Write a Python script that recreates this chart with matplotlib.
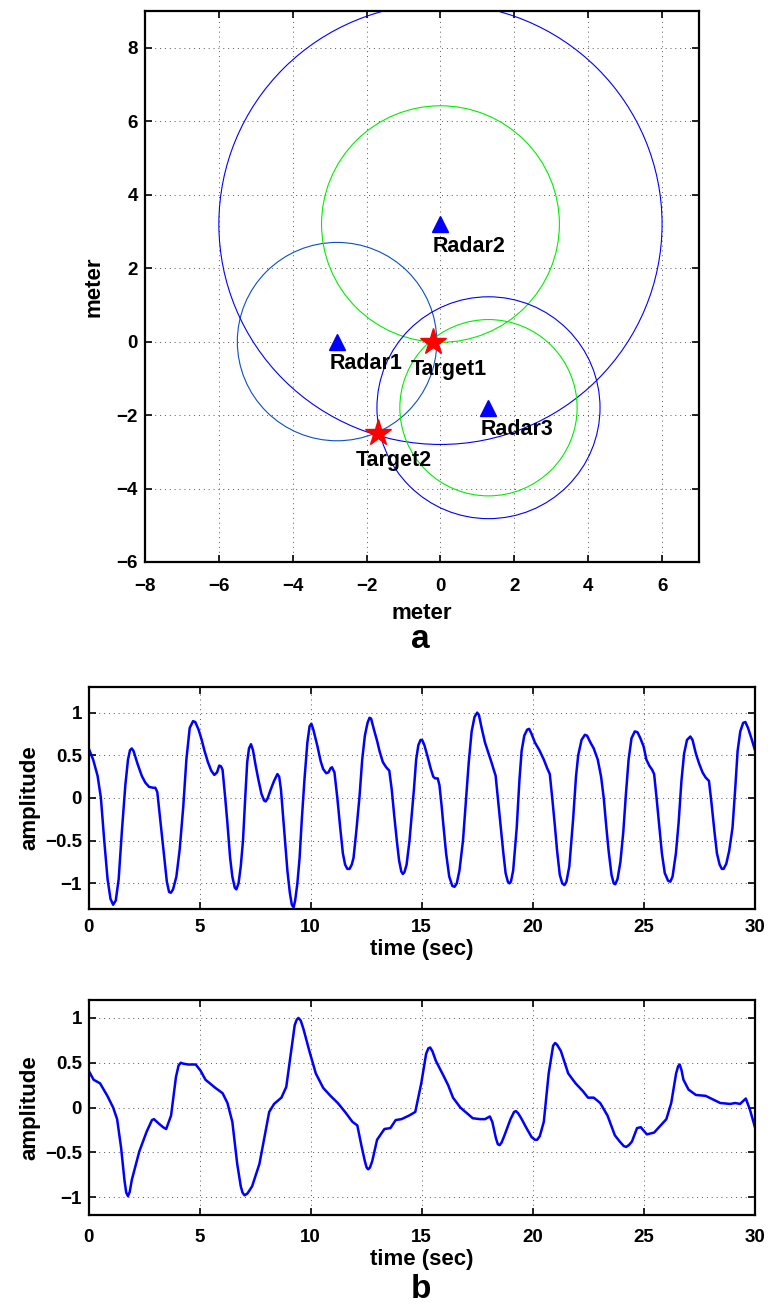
import matplotlib
matplotlib.use("Agg")
import matplotlib.pyplot as plt
from matplotlib.patches import Circle

plt.rcParams['font.family'] = ['Liberation Sans', 'DejaVu Sans']
plt.rcParams['font.weight'] = 'bold'

# ---------------- data: panel a ----------------
radar_names = ["Radar1", "Radar2", "Radar3"]
radar_x = [-2.8, 0.0, 1.3]
radar_y = [0.0, 3.2, -1.8]
target_names = ["Target1", "Target2"]
target_x = [-0.2, -1.7]
target_y = [0.0, -2.5]
# range circles: index of centre radar, radius, colour
circle_radar = [0, 1, 1, 2, 2]
circle_radius = [2.7, 6.0, 3.22, 3.02, 2.4]
circle_colors = ["#0a4fc8", "#0000ff", "#00ee00", "#0000ff", "#00ee00"]

# ---------------- data: panel b (upper signal) ----------------
t1 = [0.0, 0.2, 0.4, 0.55, 0.7, 0.85, 0.98, 1.1, 1.22, 1.35, 1.5, 1.65, 1.77, 1.86, 1.94, 2.02, 2.2, 2.39, 2.55,
      2.72, 2.9, 3.0, 3.09, 3.2, 3.38, 3.52, 3.62, 3.7, 3.8, 3.95, 4.1, 4.26, 4.4, 4.55, 4.7, 4.8, 4.95, 5.08, 5.22,
      5.37, 5.52, 5.66, 5.78, 5.88, 5.96, 6.03, 6.15, 6.25, 6.37, 6.47, 6.58, 6.65, 6.75, 6.85, 6.95, 7.05, 7.14,
      7.22, 7.31, 7.4, 7.52, 7.64, 7.78, 7.9, 7.97, 8.05, 8.2, 8.35, 8.5, 8.58, 8.66, 8.75, 8.84, 8.95, 9.06, 9.15,
      9.23, 9.3, 9.4, 9.5, 9.6, 9.72, 9.85, 9.95, 10.03, 10.12, 10.3, 10.45, 10.56, 10.7, 10.8, 10.9, 10.96, 11.07,
      11.2, 11.33, 11.45, 11.55, 11.65, 11.75, 11.85, 11.93, 12.05, 12.2, 12.32, 12.44, 12.56, 12.65, 12.72, 12.85,
      12.99, 13.1, 13.25, 13.4, 13.54, 13.65, 13.76, 13.88, 13.98, 14.08, 14.15, 14.22, 14.32, 14.45, 14.55, 14.65,
      14.75, 14.85, 14.95, 15.02, 15.12, 15.25, 15.4, 15.52, 15.6, 15.72, 15.8, 15.9, 15.97, 16.1, 16.24, 16.38,
      16.48, 16.58, 16.7, 16.86, 17.0, 17.12, 17.25, 17.38, 17.5, 17.58, 17.7, 17.85, 18.0, 18.14, 18.28, 18.33,
      18.45, 18.55, 18.68, 18.78, 18.88, 18.95, 19.02, 19.12, 19.28, 19.4, 19.5, 19.62, 19.75, 19.84, 19.95, 20.1,
      20.3, 20.5, 20.65, 20.77, 20.88, 20.99, 21.1, 21.22, 21.33, 21.43, 21.52, 21.65, 21.82, 21.95, 22.05, 22.2,
      22.35, 22.45, 22.6, 22.75, 22.93, 23.08, 23.2, 23.32, 23.42, 23.55, 23.65, 23.72, 23.82, 23.95, 24.08, 24.2,
      24.32, 24.45, 24.6, 24.72, 24.85, 25.0, 25.12, 25.25, 25.38, 25.47, 25.58, 25.69, 25.82, 25.95, 26.1, 26.2,
      26.3, 26.45, 26.57, 26.7, 26.82, 26.95, 27.1, 27.2, 27.35, 27.5, 27.65, 27.79, 27.94, 28.05, 28.19, 28.3,
      28.42, 28.52, 28.6, 28.72, 28.85, 29.0, 29.12, 29.23, 29.35, 29.48, 29.58, 29.7, 29.85, 30.0]
a1 = [0.58, 0.45, 0.26, 0.0, -0.5, -0.95, -1.18, -1.25, -1.2, -0.95, -0.37, 0.15, 0.45, 0.56, 0.58, 0.55, 0.4, 0.26,
      0.18, 0.13, 0.12, 0.12, 0.07, -0.2, -0.64, -0.98, -1.1, -1.11, -1.07, -0.92, -0.6, -0.1, 0.45, 0.82, 0.9, 0.89,
      0.8, 0.69, 0.55, 0.42, 0.32, 0.27, 0.3, 0.38, 0.37, 0.33, 0.0, -0.3, -0.7, -0.92, -1.05, -1.07, -1.0, -0.8,
      -0.5, 0.0, 0.42, 0.58, 0.63, 0.56, 0.38, 0.22, 0.05, -0.03, -0.04, -0.01, 0.1, 0.2, 0.28, 0.25, 0.1, -0.2,
      -0.49, -0.85, -1.11, -1.25, -1.28, -1.2, -1.0, -0.7, -0.25, 0.22, 0.65, 0.84, 0.87, 0.8, 0.61, 0.43, 0.34,
      0.29, 0.3, 0.35, 0.36, 0.3, 0.0, -0.35, -0.65, -0.78, -0.83, -0.83, -0.78, -0.7, -0.4, 0.02, 0.45, 0.73, 0.88,
      0.94, 0.93, 0.8, 0.67, 0.55, 0.42, 0.36, 0.32, 0.1, -0.2, -0.5, -0.73, -0.86, -0.89, -0.87, -0.78, -0.5, -0.2,
      0.1, 0.45, 0.62, 0.68, 0.68, 0.62, 0.5, 0.35, 0.25, 0.23, 0.23, 0.15, -0.1, -0.3, -0.65, -0.92, -1.03, -1.04,
      -1.0, -0.85, -0.5, 0.0, 0.42, 0.78, 0.95, 1.0, 0.97, 0.82, 0.65, 0.53, 0.42, 0.3, 0.26, -0.05, -0.3, -0.65,
      -0.88, -0.98, -1.0, -0.98, -0.85, -0.35, 0.2, 0.55, 0.73, 0.8, 0.81, 0.75, 0.65, 0.56, 0.45, 0.35, 0.28, 0.0,
      -0.3, -0.62, -0.9, -1.0, -1.02, -0.98, -0.8, -0.25, 0.25, 0.5, 0.68, 0.74, 0.73, 0.65, 0.58, 0.45, 0.25, 0.0,
      -0.35, -0.62, -0.9, -1.0, -1.01, -0.95, -0.75, -0.4, 0.05, 0.45, 0.7, 0.78, 0.77, 0.7, 0.6, 0.45, 0.38, 0.33,
      0.28, 0.0, -0.3, -0.65, -0.88, -0.97, -0.98, -0.92, -0.65, -0.3, 0.2, 0.52, 0.68, 0.72, 0.68, 0.52, 0.4, 0.3,
      0.24, 0.2, -0.05, -0.4, -0.65, -0.78, -0.83, -0.83, -0.77, -0.62, -0.35, 0.1, 0.55, 0.78, 0.88, 0.89, 0.82,
      0.7, 0.57]

# ---------------- data: panel b (lower signal) ----------------
t2 = [0.0, 0.22, 0.51, 0.84, 1.1, 1.28, 1.46, 1.61, 1.69, 1.77, 1.85, 1.94, 2.28, 2.61, 2.85, 2.94, 3.16, 3.35,
      3.49, 3.71, 3.93, 4.05, 4.15, 4.25, 4.48, 4.82, 5.04, 5.26, 5.7, 6.03, 6.25, 6.47, 6.69, 6.85, 6.93, 7.02,
      7.15, 7.36, 7.69, 7.91, 8.13, 8.35, 8.68, 8.9, 9.12, 9.28, 9.37, 9.45, 9.55, 9.67, 9.94, 10.23, 10.56, 10.89,
      11.22, 11.55, 11.88, 12.1, 12.28, 12.44, 12.52, 12.59, 12.67, 12.77, 12.99, 13.32, 13.59, 13.83, 14.09, 14.43,
      14.71, 14.98, 15.2, 15.3, 15.38, 15.48, 15.64, 15.97, 16.19, 16.41, 16.74, 17.07, 17.3, 17.63, 17.85, 18.07,
      18.18, 18.34, 18.43, 18.51, 18.6, 18.73, 19.0, 19.16, 19.24, 19.33, 19.46, 19.72, 19.95, 20.1, 20.2, 20.32,
      20.5, 20.72, 20.92, 21.01, 21.1, 21.27, 21.6, 21.93, 22.27, 22.49, 22.75, 23.04, 23.37, 23.7, 23.92, 24.1,
      24.21, 24.33, 24.47, 24.7, 24.87, 25.14, 25.47, 25.69, 26.02, 26.24, 26.46, 26.55, 26.62, 26.7, 26.79, 27.02,
      27.35, 27.79, 28.12, 28.45, 28.9, 29.12, 29.34, 29.6, 29.78, 30.0]
a2 = [0.41, 0.31, 0.27, 0.13, 0.0, -0.13, -0.45, -0.81, -0.95, -0.99, -0.94, -0.81, -0.49, -0.27, -0.14, -0.13,
      -0.18, -0.22, -0.24, -0.09, 0.34, 0.47, 0.5, 0.49, 0.48, 0.48, 0.41, 0.31, 0.22, 0.16, 0.05, -0.16, -0.63,
      -0.88, -0.95, -0.98, -0.96, -0.88, -0.63, -0.34, -0.05, 0.04, 0.11, 0.23, 0.63, 0.92, 0.98, 1.0, 0.97, 0.88,
      0.63, 0.38, 0.22, 0.13, 0.05, -0.05, -0.16, -0.2, -0.42, -0.6, -0.67, -0.69, -0.67, -0.6, -0.36, -0.24,
      -0.23, -0.14, -0.13, -0.09, -0.05, 0.27, 0.6, 0.66, 0.67, 0.63, 0.52, 0.36, 0.25, 0.11, 0.0, -0.07, -0.12,
      -0.13, -0.13, -0.1, -0.16, -0.34, -0.41, -0.42, -0.39, -0.31, -0.13, -0.05, -0.04, -0.06, -0.11, -0.23,
      -0.33, -0.36, -0.36, -0.32, -0.16, 0.38, 0.69, 0.72, 0.7, 0.63, 0.38, 0.27, 0.18, 0.11, 0.11, 0.05, -0.09,
      -0.31, -0.38, -0.43, -0.44, -0.42, -0.38, -0.23, -0.22, -0.3, -0.28, -0.22, -0.13, 0.05, 0.38, 0.46, 0.48,
      0.42, 0.31, 0.2, 0.14, 0.13, 0.09, 0.05, 0.04, 0.05, 0.04, 0.1, -0.02, -0.21]

amp_ticks = [-1, -0.5, 0, 0.5, 1]
amp_ticklabels = ["\u22121", "\u22120.5", "0", "0.5", "1"]
time_ticks = [0, 5, 10, 15, 20, 25, 30]

W, H = 768, 1306
fig = plt.figure(figsize=(W / 100, H / 100), dpi=100)

FS = 13.5   # tick labels
LFS = 16    # axis labels
TFS = 15.5  # annotations


def style(ax, xpad):
    ax.tick_params(direction='in', length=5, width=1.2, top=True, right=True,
                   labelsize=FS)
    ax.tick_params(axis='x', pad=xpad)
    ax.tick_params(axis='y', pad=5)
    for lab in ax.get_xticklabels() + ax.get_yticklabels():
        lab.set_fontweight('bold')
    for s in ax.spines.values():
        s.set_linewidth(1.6)
    ax.grid(True, linestyle=(0, (1, 4)), color='#555555', linewidth=0.7)
    ax.set_axisbelow(True)


# ---------------- panel a ----------------
axa = fig.add_axes([145 / W, 1 - 562 / H, 554 / W, 551 / H])
for ci, r, c in zip(circle_radar, circle_radius, circle_colors):
    axa.add_patch(Circle((radar_x[ci], radar_y[ci]), r, fill=False, edgecolor=c,
                         linewidth=0.8, zorder=2))
axa.plot(radar_x, radar_y, linestyle='none', marker='^', markersize=12,
         color='#0000ff', zorder=3)
axa.plot(target_x, target_y, linestyle='none', marker='*', markersize=20,
         color='#ff0000', markeredgecolor='#ff0000', zorder=4)
for n, x, y in zip(radar_names, radar_x, radar_y):
    axa.text(x - 0.2, y - 0.6, n, fontsize=TFS, fontweight='bold', ha='left', va='center', zorder=5)
for n, x, y in zip(target_names, target_x, target_y):
    axa.text(x - 0.6, y - 0.75, n, fontsize=TFS, fontweight='bold', ha='left', va='center', zorder=5)
axa.set_xlim(-8, 7)
axa.set_ylim(-6, 9)
axa.set_xticks([-8, -6, -4, -2, 0, 2, 4, 6])
axa.set_yticks([-6, -4, -2, 0, 2, 4, 6, 8])
axa.set_xticklabels(["\u22128", "\u22126", "\u22124", "\u22122", "0", "2", "4", "6"])
axa.set_yticklabels(["\u22126", "\u22124", "\u22122", "0", "2", "4", "6", "8"])
style(axa, 11.5)
axa.set_xlabel("meter", fontsize=LFS, fontweight='bold', labelpad=6)
axa.set_ylabel("meter", fontsize=LFS, fontweight='bold', labelpad=9)
fig.text(420.7 / W, 1 - 640 / H, "a", fontsize=24, fontweight='bold', ha='center', va='center')

# ---------------- panel b ----------------
ax1 = fig.add_axes([88.7 / W, 1 - 909 / H, 666 / W, 222 / H])
ax1.plot(t1, a1, color='#0000ff', linewidth=1.8)
ax1.set_xlim(0, 30)
ax1.set_ylim(-1.3, 1.3)
ax1.set_xticks(time_ticks)
ax1.set_yticks(amp_ticks)
ax1.set_yticklabels(amp_ticklabels)
style(ax1, 7.5)
ax1.set_xlabel("time (sec)", fontsize=LFS, fontweight='bold', labelpad=1.5)
ax1.set_ylabel("amplitude", fontsize=LFS, fontweight='bold', labelpad=3)

ax2 = fig.add_axes([88.7 / W, 1 - 1215 / H, 666 / W, 215 / H])
ax2.plot(t2, a2, color='#0000ff', linewidth=1.8)
ax2.set_xlim(0, 30)
ax2.set_ylim(-1.2, 1.2)
ax2.set_xticks(time_ticks)
ax2.set_yticks(amp_ticks)
ax2.set_yticklabels(amp_ticklabels)
style(ax2, 10)
ax2.set_xlabel("time (sec)", fontsize=LFS, fontweight='bold', labelpad=2)
ax2.set_ylabel("amplitude", fontsize=LFS, fontweight='bold', labelpad=3)
fig.text(420.7 / W, 1 - 1290 / H, "b", fontsize=24, fontweight='bold', ha='center', va='center')

fig.savefig("out.png", dpi=100)
